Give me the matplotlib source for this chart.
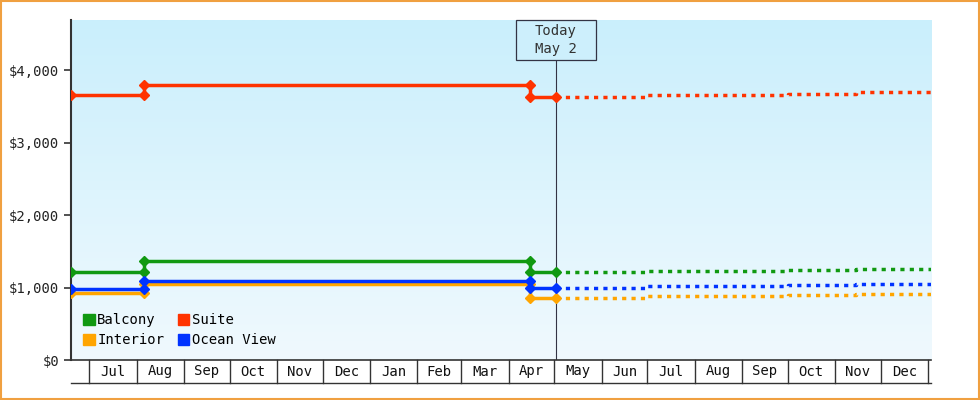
import matplotlib
matplotlib.use("Agg")
import matplotlib.pyplot as plt
import matplotlib.dates as mdates
import matplotlib.transforms as mtrans
import numpy as np
from datetime import date

plt.rcParams['font.family'] = ['DejaVu Sans Mono']

series = ["Balcony", "Suite", "Interior", "Ocean View"]
colors = {"Balcony": "#119911", "Suite": "#ff3300", "Interior": "#ffa500", "Ocean View": "#0033ff"}

# historical breakpoints
hist_dates = [date(2023, 6, 19), date(2023, 8, 6), date(2024, 4, 15), date(2024, 5, 2)]
hist_values = {
    "Suite":      [3650, 3790, 3630],
    "Balcony":    [1220, 1360, 1220],
    "Ocean View": [980, 1090, 1000],
    "Interior":   [920, 1055, 860],
}
# projections (monthly steps)
proj_dates = [date(2024, 5, 2), date(2024, 7, 1), date(2024, 10, 1), date(2024, 11, 15), date(2025, 1, 3)]
proj_values = {
    "Suite":      [3630, 3650, 3670, 3690, 3690],
    "Balcony":    [1220, 1230, 1240, 1260, 1260],
    "Ocean View": [1000, 1020, 1040, 1050, 1050],
    "Interior":   [860, 880, 890, 910, 910],
}
month_labels = ["Jul", "Aug", "Sep", "Oct", "Nov", "Dec", "Jan", "Feb", "Mar", "Apr",
                "May", "Jun", "Jul", "Aug", "Sep", "Oct", "Nov", "Dec"]
month_starts = [date(2023 + (6 + i) // 12, (6 + i) % 12 + 1, 1) for i in range(19)]
yticks = [0, 1000, 2000, 3000, 4000]
today = date(2024, 5, 2)

fig = plt.figure(figsize=(9.8, 4.0), dpi=100)
fig.patch.set_facecolor("white")
fig.add_artist(plt.Rectangle((0.001, 0.002), 0.998, 0.996, transform=fig.transFigure,
                             fill=False, edgecolor="#f0a040", lw=1.5))
ax = fig.add_axes([0.0724, 0.1, 0.8776, 0.85])
xmin, xmax = mdates.date2num(date(2023, 6, 19)), mdates.date2num(date(2025, 1, 3))
ax.set_xlim(xmin, xmax)
ax.set_ylim(0, 4690)
grad = np.linspace(0, 1, 256).reshape(-1, 1)
cmap = matplotlib.colors.LinearSegmentedColormap.from_list("g", ["#f0f9fe", "#caeffc"])
ax.imshow(grad, aspect="auto", cmap=cmap, origin="lower", extent=[xmin, xmax, 0, 4690], zorder=0)

order = ["Suite", "Balcony", "Interior", "Ocean View"]
for s in order:
    c = colors[s]
    hv = hist_values[s]
    xs = [hist_dates[0], hist_dates[1], hist_dates[1], hist_dates[2], hist_dates[2], hist_dates[3]]
    ys = [hv[0], hv[0], hv[1], hv[1], hv[2], hv[2]]
    xn = mdates.date2num(xs)
    ax.plot(xn, ys, color=c, lw=2.5, zorder=3)
    ax.plot(xn, ys, 'D', color=c, ms=5, zorder=4)
    pv = proj_values[s]
    ax.step(mdates.date2num(proj_dates), pv, where="post", color=c, lw=2.5,
            linestyle=(0, (1.2, 1.5)), zorder=3)

tx = mdates.date2num(today)
trans = mtrans.blended_transform_factory(ax.transData, ax.transAxes)
box_h = 40 / 340
ax.plot([tx, tx], [0, 1 - box_h], transform=trans, color="#333344", lw=0.8, zorder=2)
half_w = 40 / 1.5245
ax.add_patch(plt.Rectangle((tx - half_w, 1 - box_h), 2 * half_w, box_h, transform=trans,
                           fc="#cdeffc", ec="#333344", lw=0.9, zorder=5, clip_on=False))
ax.text(tx, 1 - box_h / 2, "Today\nMay 2", transform=trans, ha="center", va="center",
        fontsize=10, color="#333333", linespacing=1.35, zorder=6)

# y axis
ax.set_yticks(yticks)
ax.set_yticklabels([f"${v:,}" for v in yticks], fontsize=10, color="#222222")
ax.tick_params(axis="y", direction="out", length=5, width=1.2, color="#333333")
ax.set_xticks([])
for sp in ["top", "right"]:
    ax.spines[sp].set_visible(False)
ax.spines["left"].set_color("#333333"); ax.spines["left"].set_linewidth(1.5)
ax.spines["bottom"].set_color("#333333"); ax.spines["bottom"].set_linewidth(1.2)

# month boxes below axis
box_bottom = -23 / 340
for i, m in enumerate(month_starts):
    xm = mdates.date2num(m)
    ax.plot([xm, xm], [0, box_bottom], transform=trans, color="#333333", lw=1, clip_on=False)
    if i < len(month_labels):
        xc = (xm + mdates.date2num(month_starts[i + 1])) / 2
        ax.text(xc, box_bottom / 2, month_labels[i], transform=trans, ha="center", va="center",
                fontsize=10, color="#111111")
ax.plot([xmin, xmax], [box_bottom, box_bottom], transform=trans, color="#333333", lw=1, clip_on=False)

# legend
from matplotlib.patches import Patch
handles = [Patch(color=colors[s], label=s) for s in ["Balcony", "Interior", "Suite", "Ocean View"]]
ax.legend(handles=handles, ncol=2, loc="lower left", bbox_to_anchor=(0.0, 0.0), frameon=False,
          fontsize=10, handlelength=0.8, handleheight=0.8, handletextpad=0.2, columnspacing=1.0,
          labelspacing=0.45)

fig.savefig("out.png", dpi=100)
